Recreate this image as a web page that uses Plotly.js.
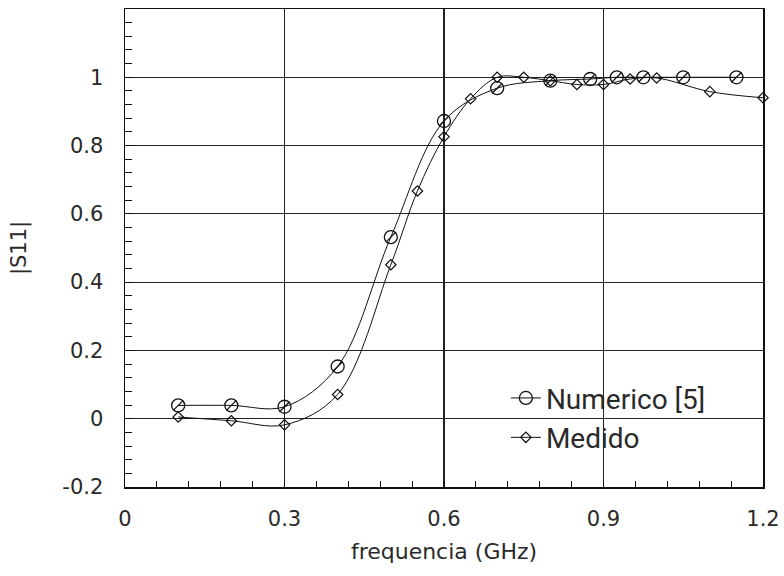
<!DOCTYPE html>
<html>
<head>
<meta charset="utf-8">
<script src="https://cdn.plot.ly/plotly-3.0.1.min.js"></script>
<style>html,body{margin:0;padding:0;background:#fff;}#chart{width:784px;height:576px;}</style>
</head>
<body>
<div id="chart"></div>
<script>
// Numerico [5]
var numX = [0.1, 0.2, 0.3, 0.4, 0.5, 0.6, 0.7, 0.8, 0.875, 0.925, 0.975, 1.05, 1.15];
var numY = [0.039, 0.039, 0.035, 0.153, 0.532, 0.872, 0.968, 0.99, 0.995, 1.0, 1.0, 1.0, 1.0];
// Medido
var medX = [0.1, 0.2, 0.3, 0.4, 0.5, 0.55, 0.6, 0.65, 0.7, 0.75, 0.8, 0.85, 0.9, 0.95, 1.0, 1.1, 1.2];
var medY = [0.005, -0.006, -0.018, 0.071, 0.451, 0.667, 0.826, 0.937, 1.0, 1.0, 0.99, 0.979, 0.979, 0.995, 0.998, 0.958, 0.94];

var xTicks = [0, 0.3, 0.6, 0.9, 1.2];
var xTickText = ['0', '0.3', '0.6', '0.9', '1.2'];
var yTicks = [-0.2, 0, 0.2, 0.4, 0.6, 0.8, 1];
var yTickText = ['-0.2', '0', '0.2', '0.4', '0.6', '0.8', '1'];

var seriesNames = ['Numerico [5]', 'Medido'];

var textFont = {family: 'DejaVu Sans, Liberation Sans, Arial, sans-serif', size: 21, color: '#2a2a2a'};

var traces = [
  {
    x: numX, y: numY, name: seriesNames[0], type: 'scatter', mode: 'lines+markers', cliponaxis: false,
    line: {color: '#111', width: 1, shape: 'spline', smoothing: 1},
    marker: {symbol: 'circle-open', size: 13, color: '#111', line: {width: 1.3, color: '#111'}}
  },
  {
    x: numX, y: numY, name: seriesNames[0], type: 'scatter', mode: 'markers', showlegend: false, cliponaxis: false,
    marker: {symbol: 'line-ne-open', size: 10, color: '#111', line: {width: 1.2, color: '#111'}}
  },
  {
    x: medX, y: medY, name: seriesNames[1], type: 'scatter', mode: 'lines+markers', cliponaxis: false,
    line: {color: '#111', width: 1, shape: 'spline', smoothing: 1},
    marker: {symbol: 'diamond-open', size: 8, color: '#111', line: {width: 1.2, color: '#111'}}
  }
];

var layout = {
  width: 784, height: 576,
  margin: {l: 125, r: 21, t: 9, b: 89},
  paper_bgcolor: '#fff', plot_bgcolor: '#fff',
  font: textFont,
  showlegend: true,
  legend: {
    x: 0.597, y: 0.238, xanchor: 'left', yanchor: 'top',
    bgcolor: 'rgba(0,0,0,0)', borderwidth: 0,
    font: {family: 'Roboto, Liberation Sans, sans-serif', size: 28, color: '#2a2a2a'},
    itemwidth: 30
  },
  xaxis: {
    range: [0, 1.2], tickmode: 'array', tickvals: xTicks, ticktext: xTickText,
    ticks: 'inside', ticklen: 6, tickcolor: '#111', tickwidth: 1,
    showgrid: true, gridcolor: '#222', gridwidth: 1.2,
    showline: true, linecolor: '#111', linewidth: 1.5, mirror: true,
    zeroline: false, ticklabelstandoff: 12,
    tickfont: textFont,
    minor: {dtick: 0.06, tick0: 0, ticks: 'inside', ticklen: 6, tickcolor: '#111', tickwidth: 1, showgrid: false},
    title: {text: 'frequencia (GHz)', font: {family: textFont.family, size: 22, color: textFont.color}, standoff: 14}
  },
  yaxis: {
    range: [-0.2, 1.2], tickmode: 'array', tickvals: yTicks, ticktext: yTickText,
    ticks: 'inside', ticklen: 7, tickcolor: '#111', tickwidth: 1,
    showgrid: true, gridcolor: '#222', gridwidth: 1.2,
    showline: true, linecolor: '#111', linewidth: 1.5, mirror: true,
    zeroline: false, ticklabelstandoff: 16,
    tickfont: textFont,
    minor: {dtick: 0.04, tick0: 0, ticks: 'inside', ticklen: 7, tickcolor: '#111', tickwidth: 1, showgrid: false},
    title: {text: '|S11|', font: textFont, standoff: 30}
  }
};

Plotly.newPlot('chart', traces, layout, {displayModeBar: false, staticPlot: true});
</script>
</body>
</html>
